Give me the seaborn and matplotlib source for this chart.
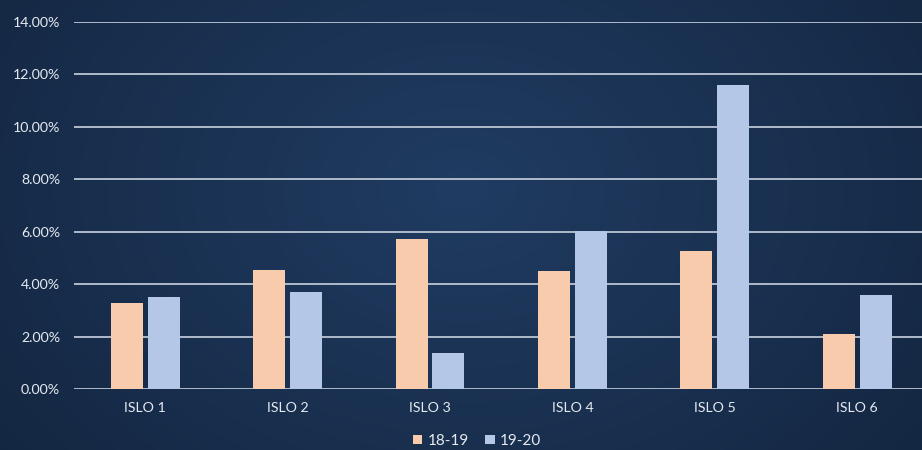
import numpy as np
import pandas as pd
import matplotlib
matplotlib.use("Agg")
import matplotlib.pyplot as plt
import seaborn as sns
from matplotlib.patches import Patch

categories = ["ISLO 1", "ISLO 2", "ISLO 3", "ISLO 4", "ISLO 5", "ISLO 6"]
series_names = ["18-19", "19-20"]
values_1819 = [3.29, 4.55, 5.73, 4.51, 5.27, 2.11]
values_1920 = [3.52, 3.71, 1.38, 6.04, 11.60, 3.59]
y_ticks = [0, 2, 4, 6, 8, 10, 12, 14]

df = pd.DataFrame({
    "cat": categories * 2,
    "series": [series_names[0]] * 6 + [series_names[1]] * 6,
    "value": values_1819 + values_1920,
})

sns.set_theme(style="white")
plt.rcParams["font.family"] = ["Lato", "DejaVu Sans"]

W, H = 922, 450
fig = plt.figure(figsize=(W / 100, H / 100), dpi=100)

# radial gradient background
bg = fig.add_axes([0, 0, 1, 1], zorder=-10)
yy, xx = np.mgrid[0:H, 0:W]
cx, cy = W * 0.5, H * 0.42
r = np.sqrt(((xx - cx) / (W * 0.62)) ** 2 + ((yy - cy) / (H * 0.95)) ** 2)
r = np.clip(r, 0, 1)
c_in = np.array([0x20, 0x3C, 0x62]) / 255
c_out = np.array([0x14, 0x27, 0x42]) / 255
img = c_in[None, None, :] * (1 - r[..., None]) + c_out[None, None, :] * r[..., None]
bg.imshow(img, aspect="auto", extent=[0, 1, 0, 1], origin="upper")
bg.set_axis_off()

ax = fig.add_axes([74 / W, (H - 389) / H, (W - 74) / W, (389 - 21.7) / H])
ax.set_facecolor("none")
sns.barplot(data=df, x="cat", y="value", hue="series", order=categories,
            hue_order=series_names, palette=["#F8CBAD", "#B4C7E7"],
            width=0.515, gap=0.128, saturation=1, linewidth=0,
            edgecolor="none", ax=ax, legend=False)

ax.set_ylim(0, 14)
ax.set_xlim(-0.5, 5.455)
ax.set_yticks(y_ticks)
ax.set_yticklabels([f"{v:.2f}%" for v in y_ticks])
ax.set_axisbelow(True)
ax.yaxis.grid(True, color="#B0BBCB", linewidth=1.4)
ax.xaxis.grid(False)
for s in ax.spines.values():
    s.set_visible(False)
ax.tick_params(axis="y", length=0, pad=10, labelsize=10.2, labelcolor="#E6EAF0")
ax.tick_params(axis="x", length=0, pad=9, labelsize=10.2, labelcolor="#E6EAF0")
ax.set_xlabel("")
ax.set_ylabel("")

handles = [Patch(facecolor="#F8CBAD", edgecolor="none"),
           Patch(facecolor="#B4C7E7", edgecolor="none")]
leg = fig.legend(handles, series_names, loc="center",
                 bbox_to_anchor=(477 / W, 1 - 441 / H), ncol=2, frameon=False,
                 handlelength=0.6, handleheight=0.6, handletextpad=0.35,
                 columnspacing=1.1, fontsize=11)
for t in leg.get_texts():
    t.set_color("#E6EAF0")

fig.savefig("out.png", dpi=100)
